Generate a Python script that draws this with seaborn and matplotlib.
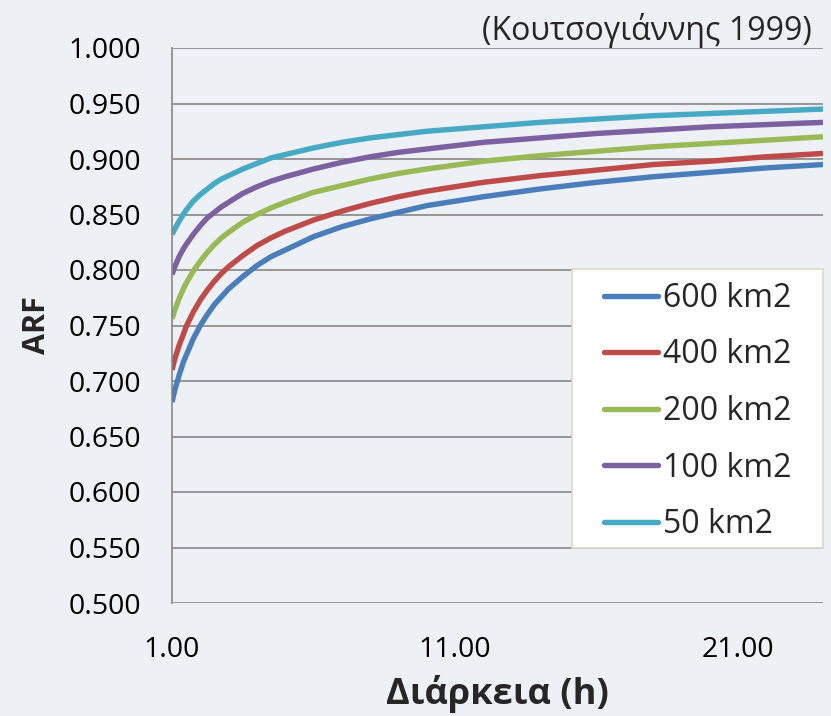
import matplotlib
matplotlib.use("Agg")
import matplotlib.pyplot as plt
import seaborn as sns
import pandas as pd
from matplotlib.lines import Line2D
from matplotlib.patches import Rectangle

# Duration (h) and areal reduction factor for each catchment area
duration = [1, 1.1, 1.25, 1.4, 1.5, 1.75, 2, 2.25, 2.5, 2.75, 3, 3.5, 4, 4.5, 5, 6, 7, 8, 9,
            10, 12, 14, 16, 18, 20, 22, 24]
arf_600 = [0.681, 0.692, 0.705, 0.717, 0.723, 0.738, 0.750, 0.760, 0.769, 0.776, 0.783,
           0.794, 0.804, 0.812, 0.818, 0.830, 0.839, 0.846, 0.852, 0.858, 0.866, 0.873,
           0.879, 0.884, 0.888, 0.892, 0.895]
arf_400 = [0.710, 0.720, 0.732, 0.742, 0.749, 0.762, 0.773, 0.782, 0.790, 0.797, 0.803,
           0.813, 0.822, 0.829, 0.835, 0.845, 0.853, 0.860, 0.866, 0.871, 0.879, 0.885,
           0.890, 0.895, 0.898, 0.902, 0.905]
arf_200 = [0.756, 0.764, 0.774, 0.783, 0.788, 0.799, 0.808, 0.816, 0.823, 0.829, 0.834,
           0.843, 0.850, 0.856, 0.861, 0.870, 0.876, 0.882, 0.887, 0.891, 0.898, 0.903,
           0.907, 0.911, 0.914, 0.917, 0.920]
arf_100 = [0.796, 0.803, 0.812, 0.819, 0.823, 0.832, 0.840, 0.847, 0.852, 0.857, 0.861,
           0.869, 0.875, 0.880, 0.884, 0.891, 0.897, 0.902, 0.906, 0.909, 0.915, 0.919,
           0.923, 0.926, 0.929, 0.931, 0.933]
arf_50 = [0.832, 0.837, 0.844, 0.850, 0.854, 0.862, 0.868, 0.873, 0.878, 0.882, 0.885,
          0.891, 0.896, 0.901, 0.904, 0.910, 0.915, 0.919, 0.922, 0.925, 0.929, 0.933,
          0.936, 0.939, 0.941, 0.943, 0.945]

areas = ["600 km2", "400 km2", "200 km2", "100 km2", "50 km2"]
series = [arf_600, arf_400, arf_200, arf_100, arf_50]
colors = ["#4a7ebb", "#be4b48", "#98b954", "#7d60a0", "#46aac5"]

y_ticks = [0.500, 0.550, 0.600, 0.650, 0.700, 0.750, 0.800, 0.850, 0.900, 0.950, 1.000]
x_ticks = [1, 11, 21]

df = pd.DataFrame({
    "Duration": duration * len(areas),
    "ARF": [v for s in series for v in s],
    "Area": [a for a in areas for _ in duration],
})

bg = "#edf0f5"
grid_col = "#878787"

sns.set_style("white", {"axes.facecolor": bg, "figure.facecolor": bg})
plt.rcParams["font.family"] = ["Open Sans", "DejaVu Sans"]

fig = plt.figure(figsize=(8.31, 7.16), dpi=100)
ax = fig.add_axes([172 / 831, 1 - 603 / 716, 651 / 831, 555 / 716])

sns.lineplot(data=df, x="Duration", y="ARF", hue="Area", hue_order=areas,
             palette=dict(zip(areas, colors)), linewidth=3.9, ax=ax,
             legend=False, solid_capstyle="butt", solid_joinstyle="round")

ax.set_xlim(1, 24)
ax.set_ylim(0.5, 1.0)
ax.set_yticks(y_ticks)
ax.set_yticklabels([f"{v:.3f}" for v in y_ticks])
ax.set_xticks(x_ticks)
ax.set_xticklabels([f"{v:.2f}" for v in x_ticks])
ax.tick_params(axis="both", length=0, labelsize=20.5, colors="black")
ax.tick_params(axis="y", pad=22)
ax.tick_params(axis="x", pad=24)

ax.yaxis.grid(True, color=grid_col, linewidth=1.2)
ax.xaxis.grid(False)
ax.set_axisbelow(True)
for side in ["top", "right", "bottom"]:
    ax.spines[side].set_visible(False)
ax.spines["left"].set_color(grid_col)
ax.spines["left"].set_linewidth(1.2)

ax.set_xlabel("Διάρκεια (h)", fontsize=26, fontweight="bold", labelpad=8)
ax.set_ylabel("ARF", fontsize=22, fontweight="bold", labelpad=12)

# Legend box: white panel in the lower right of the plot area
box_x, box_y, box_w, box_h = 400 / 651, 55 / 555, 251 / 651, 279 / 555
ax.add_patch(Rectangle((box_x, box_y), box_w, box_h, transform=ax.transAxes,
                       facecolor="white", edgecolor="#dcd9c3", linewidth=1.2,
                       zorder=4, clip_on=False))

handles = [Line2D([], [], color=c, linewidth=3.9, solid_capstyle="round") for c in colors]
leg = ax.legend(handles, areas, loc="center",
                bbox_to_anchor=(box_x + box_w / 2, box_y + box_h / 2 - 3 / 555),
                fontsize=23, frameon=False,
                handlelength=1.7, handletextpad=0.15, labelspacing=0.74,
                borderpad=0.0, borderaxespad=0)
leg.set_zorder(5)

fig.text(812 / 831, 1 - 40 / 716, "(Κουτσογιάννης 1999)", ha="right", va="baseline",
         fontsize=23)

fig.savefig("out.png", dpi=100, facecolor=bg)
